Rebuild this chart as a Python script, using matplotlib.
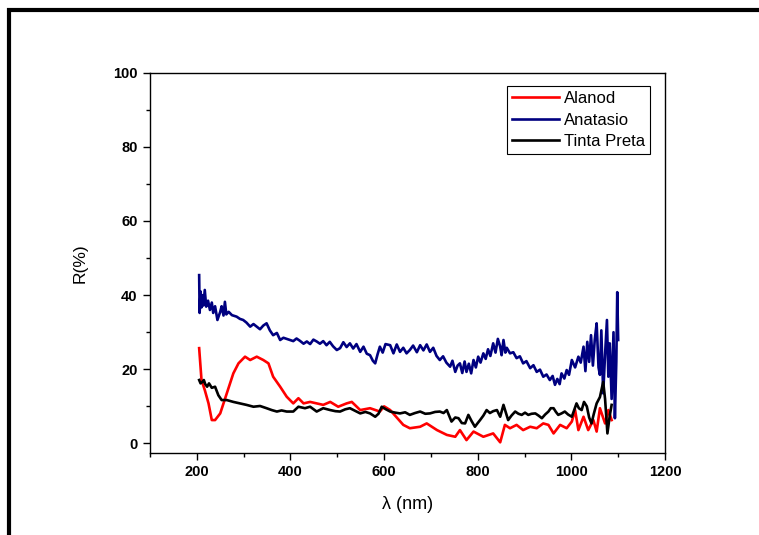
import matplotlib
matplotlib.use("Agg")
import matplotlib.pyplot as plt
from matplotlib.lines import Line2D
from matplotlib.ticker import MultipleLocator

# ---- data ----
alanod_x = [205, 210, 217, 225, 232, 239, 250, 264, 278, 289, 303, 314, 328, 342, 353,
            363, 378, 392, 406, 417, 428, 442, 456, 470, 485, 502, 520, 531, 549, 570,
            591, 600, 613, 641, 655, 677, 691, 713, 734, 752, 762, 776, 791, 812, 833,
            848, 858, 869, 883, 897, 912, 926, 940, 951, 962, 976, 990, 1001, 1008, 1015,
            1026, 1036, 1047, 1054, 1061, 1072, 1079, 1086]
alanod_y = [25.7, 17.1, 14.4, 10.8, 6.3, 6.3, 8.1, 13.5, 18.9, 21.6, 23.4, 22.5, 23.4, 22.5, 21.6,
            18.0, 15.3, 12.6, 10.8, 12.2, 10.8, 11.2, 10.8, 10.4, 11.2, 9.9, 10.8, 11.2, 9.0, 9.5,
            8.6, 10.0, 9.0, 5.0, 4.1, 4.5, 5.4, 3.6, 2.3, 1.8, 3.6, 0.9, 3.2, 1.8, 2.7,
            0.3, 5.0, 4.1, 5.0, 3.6, 4.5, 4.1, 5.4, 5.0, 2.7, 5.0, 4.1, 5.9, 9.0, 3.6,
            7.2, 3.6, 6.3, 3.2, 9.5, 5.4, 9.0, 6.3]

anatasio_x = [205, 206, 208, 210, 212, 214, 217, 220, 224, 228, 232, 235, 239, 244, 250,
              253, 257, 260, 263, 268, 275, 285, 292, 299, 306, 314, 321, 328, 335, 342,
              349, 356, 363, 371, 378, 385, 392, 399, 406, 413, 420, 428, 435, 442, 449,
              456, 463, 470, 477, 484, 491, 499, 506, 513, 520, 527, 534, 541, 549, 556,
              563, 570, 576, 581, 586, 591, 597, 603, 613, 620, 627, 634, 641, 648, 655,
              662, 670, 677, 684, 691, 698, 705, 712, 719, 726, 733, 741, 746, 752, 757,
              762, 767, 772, 776, 781, 786, 791, 796, 801, 806, 812, 817, 822, 827, 833,
              838, 843, 848, 851, 855, 859, 862, 869, 876, 883, 890, 897, 904, 912, 919,
              926, 933, 940, 947, 954, 960, 965, 970, 975, 979, 985, 990, 995, 1001, 1008,
              1015, 1020, 1026, 1030, 1034, 1038, 1042, 1046, 1050, 1054, 1058, 1061, 1064,
              1068, 1072, 1076, 1079, 1082, 1086, 1090, 1093, 1096, 1098, 1100]
anatasio_y = [45.4, 35.2, 41.0, 36.7, 40.0, 37.2, 41.4, 36.9, 38.5, 36.0, 38.0, 35.2, 37.0, 33.3, 35.5,
              37.0, 34.5, 38.2, 34.8, 35.5, 34.6, 34.2, 33.6, 33.3, 32.6, 31.5, 32.2, 31.5, 30.8, 31.8,
              32.4, 30.5, 29.2, 29.8, 27.9, 28.5, 28.2, 27.9, 27.6, 28.3, 27.7, 26.9, 27.5, 26.8, 28.0,
              27.5, 26.9, 27.6, 26.5, 27.4, 26.2, 25.2, 25.7, 27.3, 26.0, 27.0, 25.6, 26.8, 24.7, 26.1,
              24.2, 23.8, 22.3, 21.6, 24.0, 26.1, 24.5, 26.8, 26.5, 24.3, 26.7, 24.7, 25.8, 24.3, 25.2,
              26.4, 24.6, 26.5, 25.1, 26.7, 24.7, 25.8, 23.6, 22.5, 23.5, 21.8, 20.7, 22.3, 19.3, 21.0,
              21.6, 19.0, 22.1, 19.3, 21.5, 18.9, 22.5, 20.5, 23.4, 21.8, 24.3, 22.8, 25.4, 23.6, 27.0,
              24.5, 28.2, 26.1, 23.8, 27.9, 24.5, 25.8, 24.3, 24.6, 23.0, 23.5, 21.6, 22.2, 20.3, 21.1,
              19.3, 19.9, 18.0, 18.6, 17.1, 18.2, 15.8, 17.4, 16.0, 18.9, 17.5, 19.8, 18.5, 22.5, 20.5,
              23.4, 21.8, 26.1, 19.5, 27.4, 22.0, 29.2, 21.0, 28.0, 32.4, 20.5, 18.5, 30.5,
              13.5, 24.0, 33.3, 18.0, 27.0, 12.0, 30.0, 6.8, 22.0, 40.8, 27.9]

tinta_x = [205, 208, 212, 215, 218, 222, 226, 232, 239, 246, 253, 264, 278, 292, 306,
           321, 335, 349, 360, 371, 381, 392, 406, 417, 431, 442, 456, 470, 485, 496,
           506, 517, 527, 538, 549, 560, 570, 581, 588, 595, 604, 613, 624, 634, 645,
           655, 666, 677, 688, 698, 709, 719, 727, 734, 744, 752, 759, 766, 773, 780,
           787, 794, 800, 805, 812, 819, 826, 833, 841, 848, 855, 865, 872, 880, 887,
           894, 901, 908, 915, 923, 930, 937, 944, 951, 956, 962, 967, 972, 979, 986,
           993, 1001, 1006, 1011, 1016, 1022, 1027, 1033, 1038, 1043, 1048, 1054, 1061, 1068,
           1072, 1077, 1082, 1086]
tinta_y = [17.1, 16.2, 16.6, 17.1, 16.0, 15.3, 16.2, 15.0, 15.3, 13.0, 11.7, 11.7, 11.2, 10.8, 10.4,
           9.9, 10.1, 9.5, 9.0, 8.6, 8.9, 8.6, 8.6, 9.9, 9.5, 9.9, 8.6, 9.5, 9.0, 8.7,
           8.6, 9.2, 9.5, 8.8, 8.1, 8.5, 8.1, 7.2, 8.0, 9.9, 9.2, 8.6, 8.3, 8.1, 8.4,
           7.7, 8.2, 8.6, 8.0, 8.1, 8.5, 8.6, 8.2, 9.0, 5.9, 7.0, 6.8, 5.5, 5.4, 7.7,
           6.0, 4.5, 5.5, 6.3, 7.5, 9.0, 8.2, 8.7, 9.0, 7.2, 10.4, 6.3, 7.5, 8.6, 8.0,
           7.7, 8.3, 7.7, 8.0, 8.1, 7.5, 6.8, 7.8, 8.6, 9.5, 9.5, 8.5, 7.7, 8.1, 8.6,
           7.8, 7.2, 9.0, 10.8, 9.5, 9.0, 11.2, 10.0, 7.0, 5.4, 8.0, 10.8, 12.5, 16.6,
           12.0, 2.7, 7.5, 10.4]

series_labels = ["Alanod", "Anatasio", "Tinta Preta"]
x_ticks = [200, 400, 600, 800, 1000, 1200]
y_ticks = [0, 20, 40, 60, 80, 100]

# ---- figure ----
plt.rcParams['font.family'] = ['Liberation Sans', 'DejaVu Sans']
fig = plt.figure(figsize=(7.59, 5.35), dpi=100)
W, H = 759, 535
ax = fig.add_axes([150 / W, 1 - 452.7 / H, (665 - 150) / W, (452.7 - 72.7) / H])

lw = 1.9
ax.plot(alanod_x, alanod_y, color='#ff0000', lw=lw, label=series_labels[0])
ax.plot(anatasio_x, anatasio_y, color='#000080', lw=lw, label=series_labels[1])
ax.plot(tinta_x, tinta_y, color='#000000', lw=lw, label=series_labels[2])

ax.set_xlim(100, 1200)
ax.set_ylim(-2.5, 100)
ax.set_xticks(x_ticks)
ax.set_yticks(y_ticks)
ax.xaxis.set_minor_locator(MultipleLocator(100))
ax.yaxis.set_minor_locator(MultipleLocator(10))
ax.tick_params(which='major', direction='out', length=5, width=1, top=False, right=False,
               labelsize=10.5, pad=4)
ax.tick_params(which='minor', direction='out', length=3, width=1, top=False, right=False)
for lab in ax.get_xticklabels() + ax.get_yticklabels():
    lab.set_fontweight('bold')
for sp in ax.spines.values():
    sp.set_linewidth(1.0)

ax.set_xlabel('λ (nm)', fontsize=13, labelpad=12)
ax.set_ylabel('R(%)', fontsize=12.5, labelpad=18)

leg = ax.legend(loc='upper right', bbox_to_anchor=(0.971, 0.965), fontsize=12,
                frameon=True, fancybox=False, framealpha=1, edgecolor='black',
                handlelength=2.8, handletextpad=0.3, borderpad=0.3, labelspacing=0.4,
                borderaxespad=0.0)
leg.get_frame().set_linewidth(0.8)

# outer frame (top and left thick lines)
fig.add_artist(Line2D([7 / W, 1.0], [1 - 10 / H, 1 - 10 / H], color='black', lw=3.0,
                      transform=fig.transFigure, solid_capstyle='butt'))
fig.add_artist(Line2D([9 / W, 9 / W], [1 - 8 / H, 0.0], color='black', lw=3.0,
                      transform=fig.transFigure, solid_capstyle='butt'))

fig.savefig('out.png', dpi=100)
